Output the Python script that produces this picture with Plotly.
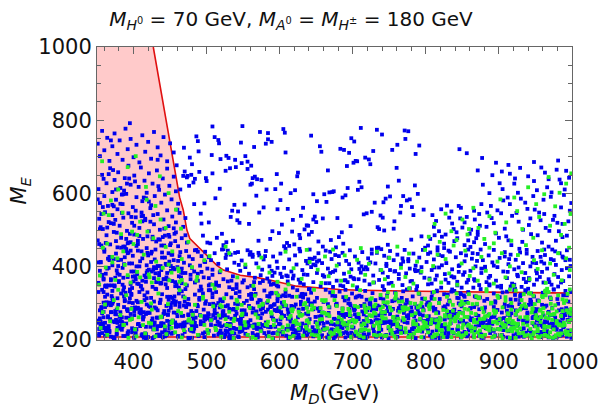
import plotly.graph_objects as go

# boundary of the shaded region (M_D, M_E)
bound_x = [350, 427, 463, 468, 473, 477, 486, 500, 514, 523, 546, 568, 591, 623, 660, 682, 710, 792, 1000]
bound_y = [1000, 1000, 590, 555, 500, 477, 459, 432, 404, 391, 377, 371, 362, 347, 341, 338, 336, 333, 328]
lower_y = 208

# blue points, by region ("x y" pairs)
blue_bottom = """353 212, 356 287, 358 241, 361 318, 362 226, 365 265, 367 302, 369 209, 371 334, 372 251, 375 279, 377 218, 379 296, 381 237, 383 327, 384 262, 386 211, 388 309, 390 245, 391 283, 393 224, 395 338, 396 271, 398 232, 399 301, 354 259, 359 331, 363 295, 366 238, 370 276, 374 205, 378 314, 382 252, 387 290, 392 215, 397 326, 385 237,
401 268, 403 219, 404 307, 406 243, 408 331, 410 284, 411 213, 413 256, 415 322, 417 236, 418 297, 420 208, 422 274, 424 315, 425 248, 427 229, 429 289, 431 339, 432 261, 434 215, 436 302, 438 244, 439 325, 441 271, 443 223, 445 293, 446 252, 448 310, 449 232, 405 285, 409 238, 414 276, 419 330, 426 205, 433 281, 440 207, 447 269,
451 288, 452 217, 454 253, 456 319, 458 236, 459 274, 461 209, 463 301, 465 242, 466 333, 468 266, 470 222, 472 290, 473 248, 475 312, 477 228, 479 279, 480 206, 482 257, 484 324, 486 238, 487 296, 489 214, 491 268, 493 337, 494 245, 496 283, 498 221, 499 306, 455 275, 462 327, 469 294, 476 203, 483 231, 490 310, 497 259, 471 339,
501 264, 503 225, 504 298, 506 241, 508 317, 510 212, 511 276, 513 331, 515 250, 517 220, 518 289, 520 237, 522 306, 524 208, 525 268, 527 325, 529 244, 531 285, 532 216, 534 258, 536 339, 538 231, 539 299, 541 272, 543 210, 545 318, 546 247, 548 281, 549 226, 505 336, 512 239, 519 261, 526 292, 533 204, 540 328, 547 262, 523 279,
551 301, 553 233, 554 270, 556 214, 558 323, 560 254, 561 287, 563 219, 565 339, 567 242, 568 276, 570 207, 572 309, 574 260, 575 226, 577 292, 579 335, 581 248, 582 211, 584 283, 586 318, 588 236, 589 265, 591 204, 593 298, 595 253, 596 327, 598 222, 599 279, 555 246, 562 313, 569 230, 576 272, 583 320, 590 218, 597 306, 564 286,
601 243, 603 302, 604 215, 606 266, 608 331, 610 229, 611 283, 613 209, 615 254, 617 318, 618 238, 620 291, 622 221, 624 336, 625 262, 627 206, 629 297, 631 245, 632 316, 634 227, 636 272, 638 213, 639 306, 641 257, 643 329, 645 235, 646 284, 648 218, 649 263, 602 276, 609 212, 616 293, 623 247, 630 325, 637 240, 644 300, 628 271,
651 315, 653 226, 654 279, 656 208, 658 252, 660 304, 661 233, 663 337, 665 267, 667 215, 668 289, 670 244, 672 321, 674 203, 675 258, 677 296, 679 231, 681 274, 682 332, 684 216, 686 286, 688 241, 689 308, 691 222, 693 268, 695 211, 696 299, 698 251, 699 327, 652 241, 659 275, 666 298, 673 227, 680 255, 687 219, 694 312, 676 320,
701 234, 703 285, 704 212, 706 319, 708 257, 710 226, 711 293, 713 205, 715 270, 717 334, 718 239, 720 281, 722 217, 724 303, 725 249, 727 328, 729 222, 731 266, 732 209, 734 294, 736 241, 738 314, 739 228, 741 276, 743 337, 745 254, 746 214, 748 289, 749 232, 705 263, 712 245, 719 310, 726 281, 733 255, 740 207, 747 322, 716 215,
751 271, 753 218, 754 306, 756 243, 758 329, 760 262, 761 209, 763 287, 765 236, 767 315, 768 253, 770 221, 772 298, 774 338, 775 247, 777 211, 779 276, 781 230, 782 319, 784 264, 786 205, 788 292, 789 240, 791 326, 793 257, 795 223, 796 284, 798 312, 799 234, 755 285, 762 241, 769 333, 776 268, 783 217, 790 274, 797 251, 764 306,
801 296, 803 227, 804 265, 806 213, 808 318, 810 248, 811 280, 813 206, 815 335, 817 239, 818 301, 820 257, 822 221, 824 289, 825 325, 827 234, 829 270, 831 211, 832 308, 834 246, 836 338, 838 218, 839 283, 841 261, 843 229, 845 314, 846 250, 848 207, 849 292, 802 241, 809 329, 816 276, 823 211, 830 297, 837 264, 844 237, 826 256,
851 273, 853 216, 854 304, 856 245, 858 331, 860 228, 861 286, 863 259, 865 210, 867 319, 868 237, 870 297, 872 266, 874 222, 875 339, 877 251, 879 206, 881 289, 882 232, 884 312, 886 268, 888 219, 889 300, 891 244, 893 327, 895 213, 896 281, 898 255, 899 230, 852 322, 859 262, 866 290, 873 240, 880 307, 887 252, 894 266, 876 215,
901 317, 903 236, 904 275, 906 209, 908 298, 910 251, 911 332, 913 224, 915 264, 917 205, 918 290, 920 242, 922 323, 924 218, 925 279, 927 256, 929 309, 931 230, 932 212, 934 287, 936 336, 938 248, 939 271, 941 226, 943 302, 945 211, 946 260, 948 319, 949 238, 902 256, 909 231, 916 311, 923 269, 930 285, 937 220, 944 327, 926 243,
951 283, 953 221, 954 307, 956 252, 958 208, 960 329, 961 267, 963 235, 965 294, 967 214, 968 277, 970 316, 972 245, 974 203, 975 338, 977 261, 979 228, 981 299, 982 251, 984 212, 986 284, 988 322, 989 237, 991 268, 993 209, 995 305, 996 249, 998 331, 952 240, 959 296, 966 224, 973 287, 980 312, 987 258, 994 226, 997 276, 985 243"""

blue_left = """352 356, 355 412, 357 378, 360 441, 362 349, 364 395, 367 427, 369 363, 371 404, 374 346, 376 436, 378 381, 380 358, 383 419, 385 397, 387 344, 389 448, 392 372, 394 409, 396 353, 399 430, 401 387, 403 366, 406 444, 408 401, 410 348, 412 423, 415 376, 417 359, 419 438, 421 392, 424 413, 426 345, 428 369, 430 447, 433 402, 435 383, 437 354, 439 425, 442 366, 444 408, 446 342, 448 437, 451 389, 453 361, 455 418, 457 347, 460 399, 462 374, 464 440, 466 355, 469 411, 471 383, 473 349, 476 428, 478 366, 480 397, 354 389, 359 368, 366 349, 373 421, 379 402, 386 370, 393 439, 398 342, 405 379, 411 442, 418 404, 425 387, 431 358, 438 391, 445 371, 452 433, 459 352, 465 386, 472 443, 477 404, 484 357, 488 381, 492 346, 497 414, 503 369, 508 392, 513 351,
351 472, 353 531, 356 458, 358 503, 361 549, 363 486, 366 522, 368 461, 371 541, 373 495, 376 470, 378 557, 381 512, 383 479, 386 534, 388 455, 391 498, 393 546, 396 467, 398 520, 401 488, 403 553, 406 462, 408 506, 411 538, 413 476, 416 527, 418 451, 421 497, 423 560, 426 482, 428 516, 431 469, 433 544, 436 501, 438 458, 441 529, 443 485, 446 554, 448 511, 451 464, 453 537, 456 490, 458 521, 461 456, 463 547, 466 478, 468 509, 471 533, 473 466, 355 508, 362 465, 369 519, 377 493, 384 547, 390 476, 397 536, 404 457, 412 524, 419 483, 427 541, 434 475, 442 504, 449 482, 457 470,
352 612, 354 574, 357 651, 360 593, 363 628, 365 566, 368 669, 371 604, 374 637, 376 583, 379 658, 382 615, 385 571, 388 642, 390 599, 393 676, 396 624, 399 563, 401 649, 404 590, 407 618, 410 671, 412 579, 415 635, 418 602, 421 655, 424 568, 426 627, 429 593, 432 663, 435 610, 438 575, 440 641, 443 597, 446 668, 449 621, 452 584, 455 646, 458 606, 461 572, 359 640, 373 565, 387 608, 402 633, 417 587,
351 736, 354 702, 357 771, 360 718, 364 752, 367 689, 371 729, 374 764, 378 708, 381 745, 385 692, 389 777, 392 721, 396 749, 400 699, 404 733, 408 685, 412 759, 416 714, 420 741, 424 695, 428 768, 433 726, 437 704, 441 754, 446 688, 450 737, 455 712, 369 745, 395 792"""

blue_right = """874 512, 932 468, 818 497, 961 583, 853 459, 995 524, 887 601, 809 541, 944 489, 866 553, 921 627, 978 471, 836 518, 903 546, 952 609, 825 463, 989 596, 871 487, 915 571, 847 532, 968 455, 893 519, 806 476, 939 558, 862 501, 983 638, 910 483, 829 567, 957 527, 881 462, 997 553, 842 494, 926 602, 873 544, 964 506, 814 525, 900 479, 948 634, 858 472, 987 517, 918 539, 835 551, 971 591, 889 566, 803 458, 941 514, 867 529, 993 485, 912 589, 850 507, 959 466, 884 548, 822 482, 936 575, 976 539, 861 454, 905 612, 845 566, 982 497, 927 523, 811 509, 955 548, 878 624, 999 574, 896 491, 839 470, 966 617, 917 459, 856 536, 985 562, 908 504, 827 488, 947 593, 869 478, 974 528, 891 650, 816 453, 933 501, 962 544, 848 561, 990 611, 913 472, 876 571, 953 486, 832 534, 979 665, 898 554, 860 490, 943 532, 821 557, 969 498, 906 581, 853 521, 996 643, 924 547, 883 509, 958 671, 838 503, 987 481, 901 628, 866 467, 949 556, 812 486, 972 603, 930 586, 890 533, 843 478, 980 520, 915 654, 871 496,
846 721, 856 710, 877 697, 871 663, 896 684, 913 678, 929 670, 948 686, 963 657, 981 690, 992 662, 940 647, 922 641, 904 660, 968 639, 985 628"""

blue_middle = """481 421, 483 387, 486 446, 488 362, 491 403, 493 429, 496 371, 498 441, 501 395, 503 349, 506 418, 508 378, 511 437, 513 357, 516 408, 518 385, 521 447, 523 366, 526 424, 528 393, 531 344, 533 433, 536 374, 538 411, 541 352, 543 440, 546 389, 548 417, 551 363, 553 399, 556 445, 558 381, 561 348, 563 427, 566 370, 568 409, 571 438, 573 356, 576 392, 578 420, 529 360, 544 405, 559 433, 574 377,
581 443, 583 368, 586 401, 588 351, 591 428, 593 384, 596 414, 598 346, 601 436, 603 372, 606 397, 608 449, 611 360, 613 420, 616 387, 618 343, 621 431, 623 406, 626 365, 628 442, 631 391, 633 352, 636 416, 638 378, 641 447, 643 399, 646 358, 648 425, 651 383, 653 437, 656 347, 658 410, 661 373, 663 444, 666 395, 668 355, 671 421, 673 386, 676 432, 678 362, 589 389, 619 376, 649 404, 669 441,
681 407, 683 349, 686 438, 688 381, 691 416, 693 358, 696 445, 698 393, 701 369, 703 428, 706 344, 708 411, 711 384, 713 440, 716 362, 718 399, 721 423, 723 352, 726 447, 728 376, 731 409, 733 438, 736 364, 738 391, 741 347, 743 430, 746 402, 748 372, 751 443, 753 356, 756 418, 758 388, 761 433, 763 367, 766 407, 768 350, 771 446, 773 382, 776 421, 778 395, 689 363, 709 394, 729 357, 749 425, 769 414, 739 448,
781 361, 783 436, 786 403, 788 347, 791 425, 793 384, 796 446, 798 370, 801 413, 803 352, 806 439, 808 391, 811 420, 813 365, 816 444, 818 398, 821 343, 823 429, 826 380, 828 410, 831 356, 833 441, 836 393, 838 371, 841 426, 843 349, 846 404, 848 437, 851 378, 853 415, 856 357, 858 447, 861 389, 863 422, 866 366, 868 401, 871 435, 873 350, 876 383, 878 418, 785 392, 805 368, 825 451, 845 386, 865 343, 875 447, 855 431, 815 376,
881 396, 883 358, 886 431, 888 375, 891 412, 893 446, 896 362, 898 399, 901 424, 903 348, 906 387, 908 440, 911 369, 913 407, 916 433, 918 354, 921 393, 923 419, 926 374, 928 449, 931 345, 933 410, 936 383, 938 436, 941 363, 943 401, 946 427, 948 351, 951 389, 953 443, 956 372, 958 414, 961 357, 963 432, 966 395, 968 366, 971 421, 973 447, 976 380, 978 405, 981 346, 983 437, 986 391, 988 361, 991 418, 993 445, 996 374, 998 402, 887 352, 912 386, 937 358, 962 409, 987 428, 927 398, 952 365, 977 442"""

# sparse blue points above the curve (M_D list, M_E list)
blue_up_x = [512, 687, 553, 741, 479, 628, 772, 594, 503, 706, 659, 538, 791, 617, 484, 733, 572, 668, 527, 754, 601, 490, 697, 643, 562, 780, 519, 715, 584, 646, 471, 763, 608, 542, 724, 677, 497, 589, 748, 634, 556, 797, 508, 681, 621, 469, 738, 566, 653, 530, 769, 603, 486, 709, 640, 578, 786, 523, 692, 615, 547, 757, 474, 664, 599, 728, 535, 776, 582, 501, 701, 648, 560, 743, 516, 686, 625, 493, 761, 571, 672, 539, 719, 607, 482, 794, 552, 657, 734, 526, 690, 613, 565, 783, 499, 711, 637, 548, 766, 587, 476, 698, 659, 532, 751, 620, 507, 726, 575, 644, 488, 778, 596, 545, 704, 670, 518, 740, 629, 561, 789, 505, 683, 611, 473, 756, 581, 651, 536, 717, 602, 492, 771, 558, 666, 745, 521, 695, 632, 569, 799, 511, 674, 618, 480, 730, 590, 655, 543, 712, 605, 495, 760, 568, 679, 527, 748, 624, 483, 702, 639, 556, 785, 514, 688, 597, 470, 736, 573, 661, 533, 722, 610, 500, 774, 584, 650, 540, 707, 627, 489, 765, 563, 685, 517, 742, 606, 477, 693, 646, 549, 781, 508, 716, 592]
blue_up_y = [587, 463, 702, 534, 651, 478, 749, 612, 521, 688, 455, 569, 731, 496, 640, 774, 548, 603, 467, 719, 582, 659, 511, 758, 627, 474, 694, 543, 765, 598, 486, 635, 712, 527, 680, 453, 573, 741, 619, 502, 667, 556, 783, 481, 609, 725, 540, 646, 469, 697, 593, 515, 756, 632, 488, 562, 708, 459, 675, 601, 739, 524, 648, 577, 492, 716, 553, 770, 611, 466, 684, 537, 624, 499, 746, 589, 657, 518, 733, 471, 604, 692, 546, 766, 630, 483, 570, 714, 508, 662, 595, 457, 727, 541, 642, 779, 513, 683, 566, 476, 621, 751, 532, 669, 592, 461, 705, 550, 637, 495, 743, 584, 653, 520, 689, 473, 613, 761, 539, 676, 599, 464, 722, 558, 644, 504, 736, 579, 471, 698, 627, 545, 772, 517, 663, 586, 490, 711, 561, 639, 452, 754, 606, 528, 680, 575, 497, 729, 551, 617, 776, 485, 670, 594, 533, 703, 460, 647, 571, 742, 512, 687, 622, 479, 719, 557, 660, 503, 768, 598, 536, 693, 465, 634, 581, 748, 522, 672, 610, 487, 715, 548, 642, 494, 737, 576, 456, 698, 615, 529, 784, 563, 655]

# more blue points in the dense band (M_D list, M_E list)
blue_band_x = [617, 382, 904, 455, 771, 528, 963, 690, 401, 836, 573, 712, 366, 948, 489, 655, 802, 437, 589, 991, 744, 361, 876, 512, 629, 418, 957, 683, 540, 822, 395, 766, 603, 927, 474, 851, 358, 709, 568, 984, 441, 795, 636, 519, 889, 373, 728, 462, 940, 585, 817, 406, 674, 553, 999, 389, 761, 497, 646, 913, 429, 867, 534, 702, 355, 979, 611, 458, 784, 693, 377, 921, 546, 810, 482, 657, 969, 415, 733, 598, 858, 364, 505, 752, 622, 946, 447, 829, 561, 685, 392, 898, 527, 776, 433, 641, 987, 369, 719, 577, 844, 468, 933, 612, 398, 806, 539, 698, 953, 423, 762, 591, 873, 352, 665, 502, 917, 448, 788, 634, 381, 971, 556, 727, 414, 882, 605, 479, 841, 363, 694, 528, 956, 437, 771, 649, 386, 908, 581, 735, 463, 997, 620, 372, 853, 509, 676, 431, 939, 567, 798, 408, 715, 543, 887, 359, 661, 490, 962, 594, 749, 426, 826, 378, 703, 536, 975, 451, 813, 637, 394, 925, 571, 744, 486, 868, 608, 353, 780, 518, 690, 442, 943, 587, 835, 367, 724, 550, 993, 412, 669, 799, 475, 906, 629, 384, 758, 531, 861, 457, 687, 358, 949, 603, 421, 792, 565, 714, 982, 439, 848, 584, 376, 736, 498, 915, 652, 404, 819, 547, 680, 967, 433, 778, 615, 361, 893, 522, 747, 470, 934, 596, 390, 805, 660, 512, 958, 446, 731, 574, 879, 417, 623, 365, 985, 696, 538, 847, 461, 768, 609, 397, 920, 555, 722, 481, 864, 642, 356, 787, 526, 950, 413, 699, 588, 831, 371, 754, 503, 976, 632, 449, 812, 562, 673, 928, 385, 741, 518, 895, 467, 654, 997, 402, 786, 545, 711, 359, 871, 614, 436, 938, 579, 765, 492, 843, 382, 686, 531, 961, 425, 803, 648, 370, 916, 552, 729, 476, 884, 606, 398, 774, 507, 992, 443, 667, 822, 587, 355, 901, 519, 738, 459, 856, 621, 392, 947, 569, 706, 484, 827, 363, 678, 543, 973, 428, 795, 636, 410, 888, 558, 751, 495, 930, 599, 377, 815, 524, 692, 453, 965, 612, 368, 839, 574, 717, 438, 907, 651, 519, 783, 401, 956, 592, 742, 470, 869, 626, 357, 808, 537, 684, 986, 432, 760, 577, 893, 416, 639, 506, 922, 468, 797, 351, 712, 583, 948, 445, 834, 620, 387, 763, 529, 978, 480, 657, 893, 402, 726, 561, 944, 419, 807, 594, 372, 873, 535, 700, 451, 988, 628, 395, 756, 514, 912, 466, 842, 603, 360, 779, 548, 689, 936, 424, 818, 571, 695, 383, 959, 517, 740, 487, 876, 610, 409, 801, 546, 665, 991, 437, 772, 589, 356, 898, 523]
blue_band_y = [231, 276, 214, 308, 249, 222, 291, 337, 207, 263, 244, 318, 229, 285, 211, 256, 301, 238, 327, 219, 272, 247, 206, 295, 233, 314, 260, 216, 282, 241, 333, 225, 268, 209, 299, 252, 236, 321, 278, 213, 245, 290, 228, 311, 262, 204, 286, 237, 340, 221, 257, 303, 243, 217, 274, 329, 234, 265, 210, 293, 248, 226, 316, 281, 239, 207, 258, 305, 230, 271, 215, 336, 251, 289, 223, 264, 242, 309, 212, 279, 235, 324, 255, 218, 297, 246, 269, 208, 313, 232, 284, 250, 224, 302, 261, 339, 214, 276, 240, 294, 227, 319, 253, 205, 287, 244, 266, 220, 308, 236, 280, 258, 211, 331, 248, 273, 229, 296, 241, 217, 263, 312, 234, 288, 206, 254, 322, 245, 271, 225, 300, 238, 260, 213, 283, 249, 335, 231, 277, 219, 291, 256, 242, 306, 222, 268, 209, 286, 252, 326, 237, 275, 215, 298, 247, 262, 228, 315, 243, 281, 204, 259, 292, 233, 270, 218, 338, 250, 285, 226, 303, 239, 266, 212, 279, 255, 320, 230, 289, 246, 207, 272, 310, 235, 261, 221, 296, 244, 283, 216, 330, 252, 268, 227, 304, 240, 258, 210, 287, 248, 317, 232, 276, 223, 293, 256, 242, 208, 281, 263, 325, 236, 270, 219, 299, 245, 286, 229, 312, 253, 214, 274, 238, 341, 259, 290, 225, 267, 249, 305, 232, 279, 211, 294, 244, 260, 222, 318, 254, 283, 235, 271, 206, 301, 247, 265, 218, 328, 240, 288, 230, 257, 213, 307, 251, 274, 226, 296, 243, 337, 215, 280, 262, 234, 292, 220, 314, 249, 269, 209, 285, 241, 256, 323, 228, 298, 246, 275, 216, 306, 238, 264, 224, 289, 253, 332, 212, 277, 248, 231, 301, 259, 219, 286, 243, 315, 236, 270, 205, 293, 252, 262, 227, 320, 245, 281, 214, 297, 239, 266, 221, 309, 256, 287, 233, 274, 210, 327, 250, 258, 225, 291, 242, 304, 217, 279, 263, 235, 339, 247, 284, 223, 299, 255, 268, 208, 313, 240, 276, 230, 293, 251, 218, 324, 244, 283, 227, 265, 237, 302, 212, 271, 257, 334, 232, 288, 246, 260, 220, 308, 243, 279, 215, 296, 254, 239, 317, 226, 273, 206, 285, 249, 263, 229, 311, 241, 290, 218, 270, 257, 340, 234, 281, 247, 224, 302, 260, 213, 277, 244, 319, 231, 295, 252, 238, 266, 209, 287, 248, 326, 222, 274, 256, 236, 305, 243, 283, 216, 297, 261, 228, 314, 250, 272, 207]

blue_band2_x = [903, 467, 744, 381, 628, 985, 552, 819, 406, 692, 937, 521, 774, 359, 661, 880, 443, 597, 966, 715, 488, 832, 372, 640, 909, 563, 757, 428, 994, 681, 511, 858, 397, 736, 612, 946, 475, 802, 354, 669, 923, 546, 785, 417, 703, 973, 589, 840, 461, 626, 378, 895, 532, 761, 999, 450, 684, 817, 366, 609, 952, 503, 728, 869, 432, 655, 981, 574, 793, 390, 718, 916, 484, 846, 357, 635, 963, 537, 770, 413, 697, 886, 562, 809, 448, 674, 934, 509, 751, 375, 618, 991, 470, 828, 587, 708, 361, 944, 525, 781, 439, 656, 874, 403, 732, 968, 549, 815, 368, 693, 917, 495, 766, 601, 851, 423, 677, 986, 535, 742, 384, 623, 898, 458, 804, 570, 719, 957, 412, 659, 838, 497, 765, 351, 640, 929, 555, 796, 436, 701, 974, 516, 861, 392, 612, 752, 905, 479, 688, 823, 369, 580, 950, 446, 731, 866, 541, 789, 407, 667, 993, 502, 778, 356, 629, 912, 567, 845, 426, 713, 961, 490, 736, 384, 598, 884, 529, 811, 453, 686, 939, 374, 650, 803, 560, 997, 417, 757, 872, 513, 695, 358, 631, 926, 475, 822, 589, 724, 966, 442, 663, 853, 395, 547, 787, 918, 466, 709, 363, 615, 979, 522, 848, 430, 741, 893, 574, 678, 355, 806, 953, 498, 639, 761, 410, 878, 544, 716, 988, 460, 592, 830, 379, 671, 937, 517, 792, 435, 648, 901, 565, 747, 353, 704, 976, 485, 859, 604, 728, 401, 923, 557, 815, 448, 683, 958, 371, 626, 770, 506, 889, 437, 654, 984, 577, 799, 365, 720, 941, 492, 836, 613, 752, 420, 675, 907, 539, 783, 388, 644, 970, 468, 819, 593, 737, 357, 862, 526, 697, 948, 414, 665, 808, 551, 992, 454, 723, 879, 380, 617, 934, 508, 776, 441, 690, 856, 570, 744, 367, 637, 960, 481, 826, 601, 715, 399, 911, 533, 797, 457, 682, 989, 545, 764, 376, 658, 873, 496, 835, 619, 739, 428, 952, 516, 785, 362]
blue_band2_y = [258, 213, 296, 237, 319, 225, 271, 204, 288, 246, 332, 218, 265, 302, 233, 279, 210, 314, 249, 227, 292, 261, 208, 339, 242, 275, 220, 305, 255, 231, 285, 213, 323, 267, 238, 298, 206, 252, 281, 224, 310, 244, 270, 216, 291, 235, 329, 259, 211, 283, 247, 302, 228, 264, 206, 318, 240, 274, 221, 293, 253, 336, 232, 268, 214, 287, 245, 308, 226, 261, 204, 296, 238, 277, 219, 325, 251, 233, 289, 211, 266, 242, 313, 223, 280, 257, 209, 299, 236, 271, 217, 334, 248, 227, 290, 262, 212, 305, 240, 278, 221, 254, 316, 230, 284, 207, 265, 244, 297, 218, 273, 327, 235, 256, 214, 290, 241, 268, 205, 311, 250, 226, 282, 239, 303, 215, 262, 246, 338, 229, 274, 208, 293, 253, 222, 320, 243, 267, 212, 286, 234, 301, 257, 219, 276, 248, 330, 225, 263, 210, 295, 238, 271, 216, 309, 251, 230, 284, 244, 206, 322, 259, 223, 290, 236, 269, 213, 300, 247, 278, 218, 335, 254, 228, 287, 241, 262, 209, 315, 233, 275, 249, 220, 297, 239, 267, 205, 308, 255, 227, 283, 245, 326, 216, 270, 237, 292, 252, 212, 279, 231, 318, 260, 224, 288, 242, 266, 207, 303, 250, 234, 276, 218, 340, 246, 263, 228, 294, 238, 214, 284, 256, 311, 222, 272, 243, 208, 298, 235, 265, 219, 324, 251, 229, 287, 241, 270, 211, 305, 255, 233, 279, 217, 316, 244, 261, 226, 292, 237, 206, 281, 249, 333, 221, 268, 240, 299, 214, 274, 253, 231, 310, 245, 219, 287, 236, 262, 209, 296, 251, 228, 321, 242, 275, 215, 290, 257, 233, 306, 223, 268, 246, 212, 282, 238, 337, 254, 226, 294, 243, 264, 207, 313, 235, 278, 220, 299, 249, 231, 285, 216, 327, 259, 240, 271, 210, 302, 247, 225, 289, 236, 265, 218, 319, 252, 230, 280, 244, 207, 296, 239, 268, 222, 308, 255, 213, 284, 247, 332, 228, 273, 241, 262, 215, 298, 234]

blue_left_x = [412, 367, 448, 385, 431, 356, 463, 399, 376, 442, 418, 361, 455, 392, 427, 371, 437, 406, 352, 468, 381, 423, 396, 359, 451, 414, 374, 440, 388, 465, 403, 366, 433, 378, 457, 409, 354, 446, 391, 425, 369, 460, 398, 436, 363, 419, 384, 453, 401, 357, 444, 372, 429, 393, 466, 411, 380, 439, 362, 421, 387, 458, 405, 368, 434, 397, 450, 375, 416, 355, 462, 390, 428, 382, 447, 408, 365, 438, 394, 456, 373, 424, 402, 353, 445, 386, 432, 360, 467, 413, 379, 441, 395, 420, 370, 459, 404, 383, 435, 358, 449, 400, 426, 377, 464, 389, 417, 364, 443, 407, 351, 454, 392, 430, 375, 461, 410, 386, 437, 366]
blue_left_y = [362, 418, 487, 351, 396, 544, 429, 373, 611, 458, 384, 347, 505, 437, 392, 569, 356, 471, 412, 648, 378, 523, 444, 365, 402, 589, 349, 481, 426, 371, 535, 397, 692, 453, 358, 415, 503, 383, 627, 441, 366, 556, 409, 474, 345, 389, 597, 433, 512, 376, 352, 664, 420, 466, 395, 548, 361, 439, 381, 578, 407, 494, 354, 426, 620, 387, 459, 370, 531, 413, 343, 448, 399, 572, 365, 484, 422, 355, 641, 393, 517, 436, 374, 462, 405, 598, 358, 447, 383, 539, 418, 366, 490, 431, 349, 677, 401, 452, 377, 563, 414, 360, 475, 390, 611, 443, 371, 507, 425, 353, 584, 397, 464, 382, 528, 416, 346, 455, 402, 653]

blue_mid_x = [534, 812, 673, 957, 601, 749, 488, 886, 638, 921, 563, 790, 702, 975, 517, 845, 659, 938, 586, 768, 493, 903, 724, 611, 864, 549, 993, 681, 827, 627, 952, 505, 776, 715, 898, 572, 839, 646, 969, 529, 757, 690, 914, 596, 881, 478, 803, 663, 946, 618, 735, 853, 541, 988, 697, 822, 577, 929, 751, 512, 870, 633, 962, 708, 794, 556, 908, 669, 843, 498, 981, 726, 592, 876, 645, 934, 523, 786, 687, 951, 609, 818, 565, 893, 741, 484, 858, 654, 972, 720, 580, 835, 695, 916, 539, 763, 628, 997, 676, 849, 503, 941, 733, 597, 867, 651, 925, 560, 808, 712, 959, 527, 779, 641, 887, 746, 590, 831, 985]
blue_mid_y = [362, 398, 345, 427, 381, 354, 441, 370, 409, 351, 433, 389, 366, 418, 348, 402, 377, 446, 359, 423, 386, 343, 412, 374, 437, 357, 396, 429, 365, 449, 382, 352, 415, 393, 346, 431, 371, 406, 358, 444, 387, 363, 421, 349, 400, 378, 435, 355, 411, 368, 452, 385, 342, 425, 373, 404, 361, 439, 391, 350, 416, 379, 447, 366, 399, 344, 428, 383, 359, 413, 372, 436, 353, 395, 421, 367, 448, 388, 347, 410, 376, 432, 358, 403, 384, 445, 364, 417, 351, 393, 429, 374, 407, 346, 438, 380, 356, 419, 390, 343, 426, 369, 451, 397, 362, 414, 378, 440, 354, 401, 386, 433, 360, 422, 349, 408, 375, 444, 357]

# green points
green_bottom = """355 233, 358 276, 364 214, 368 251, 373 309, 377 227, 382 268, 386 241, 390 322, 393 206, 397 285, 361 297, 379 337, 395 255,
402 229, 407 262, 411 304, 416 218, 421 247, 425 283, 430 210, 434 327, 438 264, 443 237, 447 298, 413 241, 428 229, 445 216,
452 246, 457 221, 461 279, 466 207, 470 316, 475 253, 479 230, 484 296, 488 214, 492 266, 497 241, 463 336, 481 269, 495 318,
502 218, 506 254, 509 292, 513 227, 517 267, 520 209, 524 314, 527 241, 531 277, 535 221, 538 258, 542 305, 546 233, 549 272, 511 341, 537 205,
552 249, 556 214, 559 288, 563 237, 566 321, 570 261, 574 224, 577 299, 581 243, 585 210, 588 276, 592 254, 595 329, 599 228, 567 203, 584 307,
602 262, 605 221, 608 295, 611 240, 614 207, 617 278, 620 249, 623 318, 626 231, 629 266, 632 212, 635 301, 638 254, 641 226, 644 283, 647 337, 619 211, 637 288,
651 245, 653 213, 656 287, 658 257, 661 229, 663 309, 666 270, 668 206, 671 250, 673 331, 676 226, 678 293, 681 262, 683 215, 686 279, 688 242, 691 318, 693 231, 696 268, 698 207,
701 252, 703 293, 705 221, 708 271, 710 336, 712 240, 715 207, 717 285, 719 258, 722 226, 724 311, 726 266, 729 214, 731 297, 733 245, 736 230, 738 323, 740 275, 743 211, 745 259, 747 302, 749 236,
751 289, 753 227, 755 262, 757 210, 759 318, 761 246, 764 277, 766 219, 768 305, 770 255, 772 232, 774 284, 777 341, 779 214, 781 268, 783 243, 785 299, 787 225, 790 327, 792 258, 794 208, 796 281, 798 239, 799 313,
801 265, 803 221, 805 294, 807 246, 809 208, 811 331, 814 273, 816 234, 818 301, 820 255, 822 216, 824 282, 827 243, 829 318, 831 229, 833 266, 835 208, 837 296, 840 251, 842 327, 844 237, 846 274, 848 212, 849 305,
851 242, 853 285, 855 219, 857 263, 859 325, 861 234, 864 298, 866 207, 868 271, 870 248, 872 314, 874 226, 877 287, 879 258, 881 214, 883 339, 885 266, 887 236, 890 302, 892 249, 894 211, 896 278, 898 321, 899 230,
901 257, 903 213, 905 289, 907 241, 909 317, 911 226, 913 270, 915 206, 917 301, 919 252, 921 234, 923 335, 925 279, 927 218, 929 262, 931 309, 933 244, 935 211, 937 291, 939 258, 941 327, 943 230, 945 275, 947 215, 949 298, 946 247,
951 268, 953 224, 955 306, 957 249, 959 211, 961 287, 963 333, 965 236, 967 273, 969 208, 971 314, 973 255, 975 229, 977 295, 979 246, 981 322, 983 213, 985 266, 987 239, 989 301, 991 219, 993 281, 995 252, 997 338, 999 227, 964 262"""

green_left = """354 376, 358 452, 362 398, 366 541, 371 427, 375 364, 379 611, 383 489, 388 405, 392 672, 396 357, 400 462, 405 386, 409 523, 414 433, 418 583, 422 371, 427 478, 431 414, 436 647, 440 397, 444 506, 449 363, 453 442, 458 556, 462 388, 466 421, 471 352, 475 468, 480 399, 357 688, 369 581, 385 548, 403 702, 419 496, 434 366, 448 601, 463 359, 487 372, 465 504,
371 412, 425 357, 398 496, 452 384, 364 463, 437 529, 409 371, 386 442, 461 395, 417 618, 353 351, 444 454, 392 377, 430 566, 378 423, 466 364, 405 487, 359 545, 448 406, 421 379"""

green_middle = """486 362, 497 418, 508 351, 519 389, 531 437, 542 371, 553 406, 564 348, 575 425, 586 384, 597 359, 608 441, 619 396, 630 367, 641 413, 526 455, 571 398, 612 352, 637 446, 504 429,
652 392, 657 356, 662 428, 667 374, 673 447, 678 403, 684 362, 689 431, 695 385, 700 349, 706 419, 711 451, 717 378, 722 408, 728 357, 733 441, 739 391, 744 366, 750 424, 755 348, 761 455, 766 397, 772 372, 777 436, 783 354, 788 414, 794 387, 799 446, 805 365, 810 402, 816 433, 821 357, 827 421, 832 382, 838 458, 843 351, 849 409, 854 444, 860 375, 865 396, 871 362, 876 427, 882 389, 887 452, 893 354, 898 414, 904 437, 909 371, 915 401, 920 348, 926 432, 931 385, 937 459, 942 366, 948 418, 953 394, 959 445, 964 356, 970 409, 975 378, 981 437, 986 363, 992 423, 997 391, 996 452"""

green_right = """804 482, 812 517, 819 468, 827 545, 835 497, 842 473, 850 529, 857 488, 865 561, 872 506, 880 476, 887 538, 895 493, 902 584, 910 521, 917 471, 925 552, 932 503, 940 617, 947 479, 955 536, 962 598, 970 512, 977 565, 985 487, 992 627, 998 544, 968 645, 983 602, 951 571, 921 589, 893 464, 859 503, 999 655, 990 517"""

green_band_x = [712, 958, 843, 667, 904, 781, 995, 736, 869, 622, 948, 805, 693, 977, 858, 741, 921, 589, 816, 964, 703, 887, 772, 936, 654, 829, 990, 758, 911, 681, 847, 969, 723, 876, 542, 797, 943, 665, 862, 985, 748, 898, 613, 824, 957, 729, 873, 476, 792, 931, 688, 852, 998, 765, 915, 637, 838, 973, 716, 881, 561, 806, 950, 744, 893, 675, 834, 981, 753, 926, 598, 819, 962, 707, 866, 404, 786, 939, 661, 848, 994, 738, 907, 627, 812, 968, 721, 884, 519, 799, 945, 696, 859, 987, 762, 918, 647, 831, 975, 733, 870, 453, 790, 934, 679, 845, 999, 756, 909, 606, 822, 960, 715, 878, 572, 808, 953, 747, 896, 671, 837, 983, 726, 923, 633, 815, 966, 700, 863, 378, 783, 941, 658, 850, 992, 769, 913, 618, 826, 971, 710, 889, 537, 795, 947, 686, 855, 979, 740, 902, 644, 817, 955, 731, 874, 495, 802, 929, 669, 841, 996, 759, 917, 601, 833, 963, 718, 880, 424, 788, 937, 692, 861, 986]
green_band_y = [228, 263, 214, 291, 246, 207, 275, 238, 319, 253, 221, 284, 242, 209, 301, 259, 231, 272, 216, 335, 248, 226, 289, 262, 205, 279, 241, 313, 255, 223, 296, 236, 268, 211, 287, 250, 328, 232, 274, 218, 303, 245, 261, 208, 283, 239, 316, 257, 225, 293, 247, 213, 271, 234, 338, 252, 220, 286, 243, 265, 206, 298, 237, 276, 229, 309, 254, 217, 281, 244, 322, 261, 227, 290, 249, 210, 273, 240, 306, 256, 222, 285, 235, 267, 215, 331, 251, 230, 295, 246, 203, 278, 242, 311, 258, 224, 288, 236, 270, 212, 299, 253, 233, 325, 248, 219, 282, 263, 239, 304, 227, 274, 245, 209, 292, 256, 231, 318, 250, 216, 280, 241, 266, 206, 297, 237, 340, 255, 223, 287, 248, 213, 275, 233, 308, 260, 226, 284, 243, 269, 211, 300, 252, 235, 321, 246, 218, 278, 264, 229, 294, 240, 207, 272, 257, 313, 236, 283, 221, 262, 249, 327, 232, 289, 244, 214, 276, 259, 300, 225]

green_band2_x = [623, 887, 754, 971, 512, 839, 698, 946, 583, 812, 925, 668, 783, 997, 741, 862, 437, 905, 639, 818, 959, 717, 548, 874, 792, 983, 655, 933, 763, 604, 851, 978, 686, 913, 469, 826, 748, 962, 597, 893, 705, 848, 991, 631, 776, 918, 541, 867, 729, 954, 674, 804, 387, 939, 759, 616, 882, 994, 695, 836, 567, 921, 779, 648, 968, 857, 722, 501, 899, 814, 943, 661, 787, 576, 871, 985, 733, 929, 608, 843, 707, 956, 424, 891, 768, 636, 976, 820, 682, 909, 553, 853, 746, 999, 619, 797, 935, 671, 879, 526, 761, 964, 713, 844, 590, 917, 800, 950, 644, 729, 887, 465, 979, 773, 658, 905, 832, 563, 946, 699, 866, 611, 794, 989, 738, 923, 679, 858, 398, 812, 960, 627, 751, 896, 532, 841, 974, 716, 584, 932, 769, 652, 883, 999, 704, 826, 571, 953, 789, 637, 912, 480, 866, 742, 982, 603, 819, 694, 938, 757, 548, 878, 664, 970, 807, 726, 901, 615, 849, 987, 685, 924, 521, 784, 957, 640, 833, 711, 894, 592, 966, 776, 452, 915, 655, 852, 738, 993, 626, 808, 943]
green_band2_y = [244, 271, 217, 299, 233, 258, 209, 284, 240, 312, 226, 265, 251, 214, 290, 237, 262, 205, 277, 248, 320, 229, 268, 211, 294, 243, 256, 220, 305, 235, 273, 213, 286, 249, 227, 264, 330, 238, 216, 281, 252, 297, 224, 269, 208, 245, 310, 232, 275, 257, 218, 292, 241, 263, 206, 283, 236, 326, 250, 222, 270, 246, 301, 213, 259, 239, 287, 228, 315, 254, 210, 274, 243, 296, 221, 266, 248, 232, 338, 261, 215, 280, 245, 207, 289, 236, 271, 253, 225, 307, 240, 263, 212, 285, 249, 231, 298, 218, 276, 257, 238, 322, 229, 268, 204, 283, 246, 260, 215, 292, 234, 274, 252, 221, 309, 242, 265, 208, 287, 237, 255, 226, 301, 247, 214, 270, 232, 283, 258, 211, 317, 243, 226, 276, 239, 262, 206, 294, 250, 219, 281, 235, 333, 255, 223, 268, 244, 210, 289, 231, 273, 248, 216, 303, 240, 261, 227, 285, 213, 252, 296, 236, 270, 221, 245, 314, 229, 266, 208, 279, 256, 238, 291, 218, 263, 247, 305, 225, 272, 241, 211, 286, 233, 258, 224, 299, 249, 215, 277]


def parse(*blocks):
    xs, ys = [], []
    for b in blocks:
        for p in b.replace("\n", " ").split(","):
            p = p.split()
            if len(p) == 2:
                xs.append(int(p[0]))
                ys.append(int(p[1]))
    return xs, ys


def join(xs, ys, *pairs):
    for xl, yl in pairs:
        n = min(len(xl), len(yl))
        xs += xl[:n]
        ys += yl[:n]
    return xs, ys


bx, by = parse(blue_bottom, blue_left, blue_right, blue_middle)
bx, by = join(bx, by, (blue_up_x, blue_up_y), (blue_band_x, blue_band_y), (blue_band2_x, blue_band2_y),
              (blue_left_x, blue_left_y), (blue_mid_x, blue_mid_y))

gx, gy = parse(green_bottom, green_left, green_middle, green_right)
gx, gy = join(gx, gy, (green_band_x, green_band_y), (green_band2_x, green_band2_y))

fig = go.Figure()

# shaded region
fig.add_scatter(x=bound_x + [1000, 350], y=bound_y + [200, 200], fill="toself",
                fillcolor="#ffcaca", line=dict(width=0), mode="lines", hoverinfo="skip")
fig.add_scatter(x=bound_x[1:], y=bound_y[1:], mode="lines",
                line=dict(color="#e01010", width=1.6), hoverinfo="skip")
fig.add_scatter(x=[350, 1000], y=[lower_y, lower_y], mode="lines",
                line=dict(color="#e01010", width=1.4), hoverinfo="skip")

fig.add_scatter(x=bx, y=by, mode="markers",
                marker=dict(color="#0000ee", size=3.8, symbol="square", line=dict(width=0)))
fig.add_scatter(x=gx, y=gy, mode="markers",
                marker=dict(color="#26ee26", size=3.8, symbol="square", line=dict(width=0)))

axis_common = dict(showgrid=False, zeroline=False, showline=True, linecolor="#666666", linewidth=1,
                   mirror="allticks", ticks="inside", ticklen=7, tickcolor="#666666", automargin=False,
                   tickfont=dict(family="DejaVu Sans", size=21, color="#111111"))

fig.update_xaxes(range=[350, 1000], tickvals=[400, 500, 600, 700, 800, 900, 1000], ticklabelstandoff=3,
                 minor=dict(dtick=20, ticklen=4, ticks="inside", tickcolor="#666666"), **axis_common)
fig.update_yaxes(range=[200, 1000], tickvals=[200, 400, 600, 800, 1000],
                 minor=dict(dtick=50, ticklen=4, ticks="inside", tickcolor="#666666"), **axis_common)

fig.update_layout(
    width=600, height=415,
    margin=dict(l=97, r=28, t=47, b=75),
    plot_bgcolor="white", paper_bgcolor="white",
    showlegend=False,
    font=dict(family="DejaVu Sans", color="#111111"),
    title=dict(text="<i>M</i><sub><i>H</i><sup>0</sup></sub> = 70 GeV, <i>M</i><sub><i>A</i><sup>0</sup></sub> = <i>M</i><sub><i>H</i><sup>±</sup></sub> = 180 GeV",
               xref="container", x=0.485, xanchor="center", yref="container", y=0.955, yanchor="middle",
               automargin=False, font=dict(size=20)),
    annotations=[
        dict(text="<i>M</i><sub><i>D</i></sub>(GeV)", xref="paper", yref="paper", x=0.5, y=-0.185,
             xanchor="center", yanchor="middle", showarrow=False, font=dict(size=21)),
        dict(text="<i>M</i><sub><i>E</i></sub>", xref="paper", yref="paper", x=-0.162, y=0.51,
             xanchor="center", yanchor="middle", textangle=-90, showarrow=False, font=dict(size=21)),
    ],
)

fig.write_html("out.html", config={"displayModeBar": False},
               post_script="document.body.style.margin='0';")
